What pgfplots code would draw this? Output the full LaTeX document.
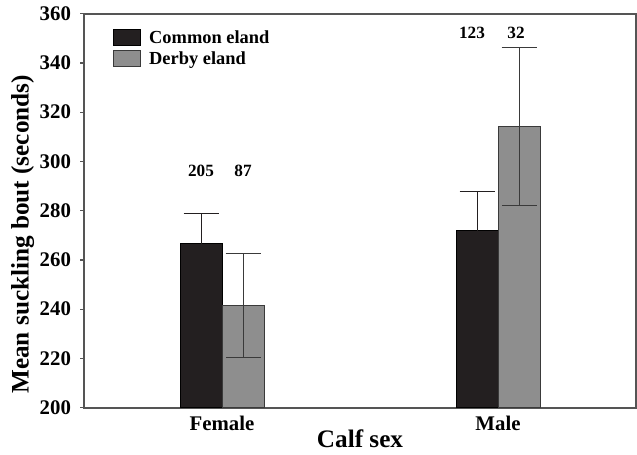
\documentclass[border=0pt]{standalone}
\usepackage{fontspec}
\setmainfont{Liberation Serif}
\usepackage{pgfplots}
\usepackage{pgfplotstable}
\pgfplotsset{compat=1.18}
\definecolor{barblack}{HTML}{231F20}
\definecolor{bargray}{HTML}{8E8E8E}
\definecolor{axisgray}{HTML}{555555}
\definecolor{errgray}{HTML}{3A3A3A}

\pgfplotstableread{
x y err
0 266.6 12.2
1 271.9 15.8
}\common
\pgfplotstableread{
x y err
0 241.4 21.1
1 314.1 32.1
}\derby

\begin{document}
\begin{tikzpicture}
\begin{axis}[
  scale only axis, width=276pt, height=197pt,
  xmin=-0.5, xmax=1.5, ymin=200, ymax=360,
  ytick={200,220,...,360},
  ytick pos=left,
  xtick={0,1}, xticklabels={Female,Male},
  xtick style={draw=none},
  ytick style={axisgray, line width=0.6pt},
  major tick length=2pt,
  tick align=outside,
  axis line style={axisgray, line width=1pt},
  ybar=0pt, bar width=21pt,
  ticklabel style={font=\fontsize{10.4}{12}\selectfont\bfseries},
  /pgf/number format/assume math mode=true,
  yticklabel style={xshift=-1pt},
  xticklabel style={yshift=1.5pt},
  xlabel={Calf sex}, ylabel={Mean suckling bout (seconds)},
  label style={font=\fontsize{12.6}{14}\selectfont\bfseries},
  ylabel style={at={(axis description cs:-0.111,0.44)}, anchor=center},
  xlabel style={at={(axis description cs:0.5,-0.08)}, anchor=center},
  legend style={at={(axis description cs:0.0525,0.962)}, anchor=north west,
    draw=none, fill=none, inner sep=0pt, row sep=2pt,
    font=\fontsize{9.2}{10}\selectfont\bfseries,
    nodes={inner sep=1pt, text depth=0pt},
    /tikz/every odd column/.append style={column sep=3pt}},
  legend cell align=left,
  legend image code/.code={\draw[#1, line width=0.4pt] (0pt,-4pt) rectangle (13.5pt,4pt);},
  error bars/error bar style={errgray, line width=0.5pt},
  error bars/error mark options={errgray, line width=0.5pt, mark size=8.75pt, rotate=90},
  clip=false,
]
\addplot[fill=barblack, draw=black, line width=0.4pt,
  error bars/.cd, y dir=both, y explicit,
  error bar style={color=barblack, line width=0.5pt},
  error mark options={color=barblack, line width=0.5pt, mark size=8.75pt, rotate=90}]
  table[x=x, y=y, y error=err] {\common};
\addlegendentry{Common eland}
\addplot[fill=bargray, draw=errgray, line width=0.4pt,
  error bars/.cd, y dir=both, y explicit]
  table[x=x, y=y, y error=err] {\derby};
\addlegendentry{Derby eland}
\node[font=\fontsize{8.6}{10}\selectfont\bfseries, xshift=-10.5pt] at (axis cs:0,296) {205};
\node[font=\fontsize{8.6}{10}\selectfont\bfseries, xshift=10.5pt] at (axis cs:0,296) {87};
\node[font=\fontsize{8.6}{10}\selectfont\bfseries, xshift=-13pt] at (axis cs:1,352) {123};
\node[font=\fontsize{8.6}{10}\selectfont\bfseries, xshift=9pt] at (axis cs:1,352) {32};
\path (axis description cs:-0.1522,0.5);
\end{axis}
\end{tikzpicture}
\end{document}
